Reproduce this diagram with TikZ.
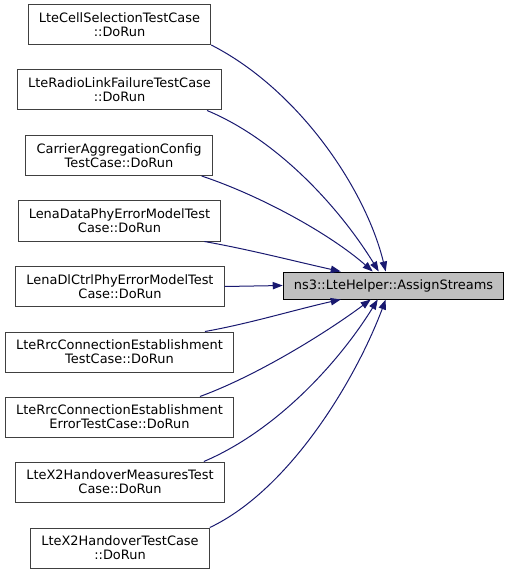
\documentclass[tikz,border=0pt]{standalone}
\usepackage{fontspec}
\setmainfont{DejaVu Sans}
\usetikzlibrary{calc, arrows.meta}
\definecolor{edgeblue}{HTML}{191970}
\definecolor{nodegray}{HTML}{BFBFBF}

\begin{document}
\begin{tikzpicture}[x=0.75pt, y=-0.75pt,
  caller/.style={draw=black!75, line width=0.75pt, align=center, inner xsep=8pt,
    minimum height=30pt, font=\fontsize{9.7}{10.7}\selectfont},
  callee/.style={draw=black, fill=nodegray, line width=0.75pt, inner xsep=8pt,
    minimum height=20.25pt, font=\fontsize{9.7}{10.7}\selectfont},
  calls/.style={draw=edgeblue, line width=0.75pt,
    -{Triangle[length=7.5pt, width=5.5pt]}}]
  \useasboundingbox (0,0) rectangle (509,573);

  % 调用者
  \node[caller] (b1) at (119.5,24.5) {LteCellSelectionTestCase\\::DoRun};
  \node[caller] (b2) at (119.5,90) {LteRadioLinkFailureTestCase\\::DoRun};
  \node[caller] (b3) at (119,155.5) {CarrierAggregationConfig\\TestCase::DoRun};
  \node[caller] (b4) at (119.5,221) {LenaDataPhyErrorModelTest\\Case::DoRun};
  \node[caller] (b5) at (120,286.5) {LenaDlCtrlPhyErrorModelTest\\Case::DoRun};
  \node[caller] (b6) at (119.5,352) {LteRrcConnectionEstablishment\\TestCase::DoRun};
  \node[caller] (b7) at (119.5,417) {LteRrcConnectionEstablishment\\ErrorTestCase::DoRun};
  \node[caller] (b8) at (120,482) {LteX2HandoverMeasuresTest\\Case::DoRun};
  \node[caller] (b9) at (120,548) {LteX2HandoverTestCase\\::DoRun};

  % 被调用函数
  \node[callee] (t) at (393.5,285.5) {ns3::LteHelper::AssignStreams};

  % 调用关系(上方)
  \draw[calls] (b1.south east) .. controls +(88,45) and +(-20,-82) .. ($(t.north west)+(103,0)$);
  \draw[calls] ($(b2.south east)+(-15,0)$) .. controls +(72,30) and +(-38,-62) .. ($(t.north west)+(96,0)$);
  \draw[calls] ($(b3.south east)+(-11,0)$) .. controls +(60,20) and +(-42,-37) .. ($(t.north west)+(90,0)$);
  \draw[calls] ($(b4.south east)+(-17,0)$) .. controls +(45,8) and +(-45,-10) .. ($(t.north west)+(58,0)$);
  \draw[calls] (b5.east) -- (t.west);

  % 调用关系(下方)
  \draw[calls] ($(b6.north east)+(-29,0)$) .. controls +(45,-8) and +(-45,10) .. ($(t.south west)+(58,0)$);
  \draw[calls] ($(b7.north east)+(-34,0)$) .. controls +(60,-22) and +(-40,30) .. ($(t.south west)+(88,0)$);
  \draw[calls] ($(b8.north east)+(-21,0)$) .. controls +(75,-32) and +(-37,60) .. ($(t.south west)+(95,0)$);
  \draw[calls] (b9.north east) .. controls +(80,-38) and +(-30,80) .. ($(t.south west)+(103,0)$);
\end{tikzpicture}
\end{document}
